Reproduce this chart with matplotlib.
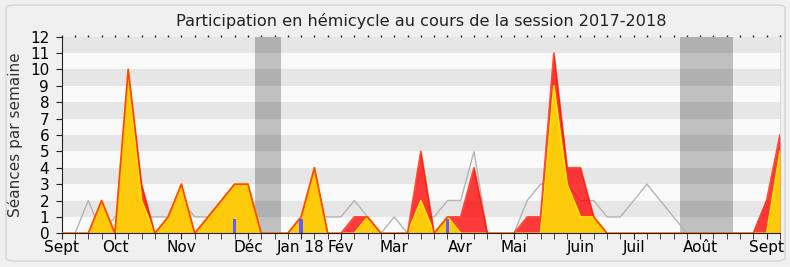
import matplotlib
matplotlib.use("Agg")
import matplotlib.pyplot as plt
from matplotlib.patches import FancyBboxPatch

# weekly values, week 0 = first week of Sept 2017
presences = [0, 0, 0, 2, 0, 10, 3, 0, 1, 3, 0, 1, 2, 3, 3, 0, 0, 0, 1, 4,
             0, 0, 1, 1, 0, 0, 0, 5, 0, 1, 1, 4, 0, 0, 0, 1, 1, 11, 4, 4,
             1, 0, 0, 0, 0, 0, 0, 0, 0, 0, 0, 0, 0, 2, 6]
interventions = [0, 0, 0, 2, 0, 10, 2, 0, 1, 3, 0, 1, 2, 3, 3, 0, 0, 0, 1, 4,
                 0, 0, 0, 1, 0, 0, 0, 2, 0, 1, 0, 0, 0, 0, 0, 0, 0, 9, 3, 1,
                 1, 0, 0, 0, 0, 0, 0, 0, 0, 0, 0, 0, 0, 0, 5]
mediane = [0, 0, 2, 0, 1, 2, 1, 1, 1, 2, 1, 1, 2, 1, 1, 0, 0, 0, 1, 1,
           1, 1, 2, 1, 0, 1, 0, 1, 1, 2, 2, 5, 0, 0, 0, 2, 3, 3, 3, 2,
           2, 1, 1, 2, 3, 2, 1, 0, 0, 0, 0, 0, 0, 2, 1]
questions_weeks = [13, 18, 29]
questions = [0.87, 0.87, 0.87]

vacances = [(14.5, 16.5), (46.5, 50.5)]
month_weeks = [0, 4, 9, 14, 18, 21, 25, 30, 34, 39, 43, 48, 53]
month_labels = ['Sept', 'Oct', 'Nov', 'Déc', 'Jan 18', 'Fév', 'Mar', 'Avr',
                'Mai', 'Juin', 'Juil', 'Août', 'Sept']

weeks = list(range(len(presences)))

fig = plt.figure(figsize=(7.9, 2.67), dpi=100, facecolor='#f0f0f0')
fig.patches.append(FancyBboxPatch((6 / 790, 1 - 261 / 267), 779 / 790, 256 / 267,
                                  boxstyle='round,pad=0,rounding_size=0.012',
                                  transform=fig.transFigure, facecolor='none',
                                  edgecolor='#d6d6d6', linewidth=1))
ax = fig.add_axes([0.0781, 0.1262, 0.9092, 0.7363])
ax.set_facecolor('#fafafa')

for a, b in vacances:
    ax.axvspan(a, b, color='#c0c0c0', lw=0, zorder=1)
for y in range(1, 12, 2):
    ax.axhspan(y, y + 1, color='black', alpha=0.08, lw=0, zorder=1.5)

ax.plot(weeks, mediane, color='#b4b4b4', lw=1, zorder=2)
ax.fill_between(weeks, presences, color='#ff0000', alpha=0.77, lw=0, zorder=3)
ax.fill_between(weeks, interventions, color='#ffd30a', alpha=0.95, lw=0, zorder=4)
ax.plot(weeks, interventions, color='#ffe600', lw=1.2, zorder=5)
ax.plot(weeks, presences, color='#ff1a00', lw=1.3, alpha=0.75, zorder=6)
ax.bar(questions_weeks, questions, width=0.25, color='#5f5fff', zorder=7)

ax.set_xlim(0, 54)
ax.set_ylim(0, 12)
ax.set_yticks(range(13))
ax.set_xticks(month_weeks)
ax.set_xticklabels(month_labels)
ax.set_xticks(weeks, minor=True)
ax.tick_params(axis='x', which='both', length=4, pad=1, labelsize=11,
               color='#222222')
ax.tick_params(axis='y', length=4, pad=5, labelsize=11, color='#222222')

# small dotted ticks along the top edge
top = ax.secondary_xaxis('top')
top.set_xticks(weeks)
top.tick_params(length=1.5, width=1, labeltop=False, color='#222222')
top.spines['top'].set_visible(False)

ax.spines['top'].set_visible(False)
ax.spines['right'].set_color('#dddddd')
ax.spines['left'].set_color('#222222')
ax.spines['bottom'].set_color('#222222')
ax.spines['bottom'].set_zorder(8)

ax.set_ylabel('Séances par semaine', fontsize=11, color='#333333', labelpad=5)
ax.set_title('Participation en hémicycle au cours de la session 2017-2018',
             fontsize=11.6, color='#222222', pad=8)

fig.savefig('out.png', dpi=100, facecolor=fig.get_facecolor())
